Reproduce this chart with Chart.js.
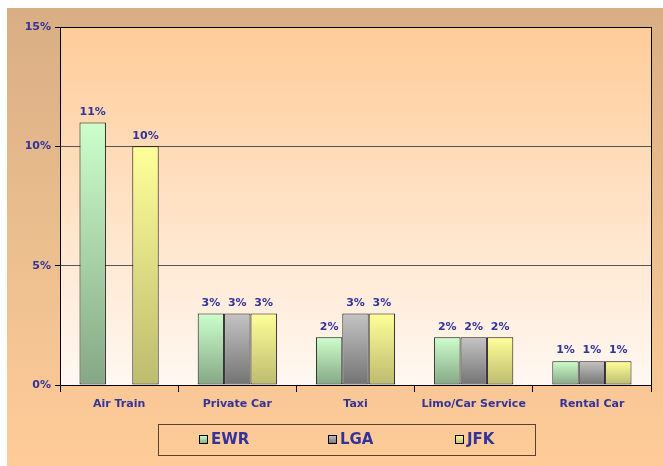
<!DOCTYPE html>
<html>
<head>
<meta charset="utf-8">
<script src="https://cdn.jsdelivr.net/npm/chart.js@4.4.1/dist/chart.umd.min.js"></script>
<style>
html,body{margin:0;padding:0;background:#fff;}
#wrap{position:relative;width:663px;height:466px;}
canvas{display:block;}
</style>
</head>
<body>
<div id="wrap"><canvas id="c" width="663" height="466"></canvas></div>
<script>
const categories = ['Air Train', 'Private Car', 'Taxi', 'Limo/Car Service', 'Rental Car'];
const ewr = [11, 3, 2, 2, 1];
const lga = [null, 3, 3, 2, 1];
const jfk = [10, 3, 3, 2, 1];
const seriesNames = ['EWR', 'LGA', 'JFK'];
const yTicks = [0, 5, 10, 15];

const TEXT = '#333399';
const FONT = '"DejaVu Sans", Verdana, sans-serif';
const gradStops = [
  ['#CCFFCC', '#85A785'],
  ['#C4C4C4', '#737373'],
  ['#FFFF99', '#BDBB6E']
];

function barGradient(idx) {
  return function(ctx) {
    const chart = ctx.chart;
    const ys = chart.scales && chart.scales.y;
    if (!chart.chartArea || !ys || ctx.raw === null || ctx.raw === undefined) return gradStops[idx][0];
    const top = ys.getPixelForValue(ctx.raw), bottom = ys.getPixelForValue(0);
    if (!(bottom > top)) return gradStops[idx][0];
    const g = chart.ctx.createLinearGradient(0, top, 0, bottom);
    g.addColorStop(0, gradStops[idx][0]);
    g.addColorStop(1, gradStops[idx][1]);
    return g;
  };
}

const bgPlugin = {
  id: 'bg',
  beforeDraw(chart) {
    const c = chart.ctx, a = chart.chartArea;
    c.save();
    c.fillStyle = '#ffffff';
    c.fillRect(0, 0, chart.width, chart.height);
    const og = c.createLinearGradient(0, 8, 0, chart.height);
    og.addColorStop(0, '#D9AE84');
    og.addColorStop(0.5, '#EBBE8E');
    og.addColorStop(1, '#FFCC99');
    c.fillStyle = og;
    c.fillRect(7, 8, chart.width - 7, chart.height - 8);
    const pg = c.createLinearGradient(0, a.top, 0, a.bottom);
    pg.addColorStop(0, '#FFCC99');
    pg.addColorStop(1, '#FFF8F2');
    c.fillStyle = pg;
    c.fillRect(a.left, a.top, a.right - a.left, a.bottom - a.top);
    c.restore();
  },
  afterDraw(chart) {
    const c = chart.ctx, a = chart.chartArea;
    c.save();
    c.strokeStyle = '#000';
    c.lineWidth = 1;
    c.strokeRect(Math.round(a.left) + 0.5, Math.round(a.top) + 0.5, Math.round(a.right - a.left), Math.round(a.bottom - a.top));
    // legend
    const lx = 158, ly = 424, lw = 377, lh = 31;
    c.strokeStyle = '#5a4030';
    c.strokeRect(lx + 0.5, ly + 0.5, lw, lh);
    const starts = [199, 328, 455];
    c.font = 'bold 15px ' + FONT;
    c.textBaseline = 'middle';
    chart.data.datasets.forEach((ds, i) => {
      const sx = starts[i], sy = ly + 11;
      const g = c.createLinearGradient(0, sy, 0, sy + 9);
      g.addColorStop(0, gradStops[i][0]);
      g.addColorStop(1, gradStops[i][1]);
      c.fillStyle = g;
      c.fillRect(sx, sy, 9, 9);
      c.strokeStyle = '#000';
      c.strokeRect(sx + 0.5, sy + 0.5, 8, 8);
      c.fillStyle = TEXT;
      c.textAlign = 'left';
      c.fillText(ds.label, sx + 12, ly + 16);
    });
    c.restore();
  }
};

const labelPlugin = {
  id: 'vals',
  afterDatasetsDraw(chart) {
    const c = chart.ctx;
    c.save();
    c.font = 'bold 11px ' + FONT;
    c.fillStyle = TEXT;
    c.textAlign = 'center';
    c.textBaseline = 'bottom';
    chart.data.datasets.forEach((ds, i) => {
      const meta = chart.getDatasetMeta(i);
      meta.data.forEach((bar, j) => {
        const v = ds.data[j];
        if (v === null || v === undefined) return;
        c.fillText(v + '%', bar.x, bar.y - 5);
      });
    });
    c.restore();
  }
};

new Chart(document.getElementById('c'), {
  type: 'bar',
  data: {
    labels: categories,
    datasets: [
      { label: seriesNames[0], data: ewr, backgroundColor: barGradient(0) },
      { label: seriesNames[1], data: lga, backgroundColor: barGradient(1) },
      { label: seriesNames[2], data: jfk, backgroundColor: barGradient(2) }
    ].map(d => Object.assign(d, { borderColor: '#111', borderWidth: 1, borderSkipped: false, categoryPercentage: 0.67, barPercentage: 1.0 }))
  },
  options: {
    responsive: false,
    animation: false,
    devicePixelRatio: 1,
    layout: { padding: { left: 0, right: 12, top: 27, bottom: 50 } },
    plugins: { legend: { display: false }, tooltip: { enabled: false } },
    scales: {
      x: {
        afterFit(s) { s.height = 31; },
        grid: { offset: true, drawOnChartArea: false, drawTicks: true, tickLength: 7, color: '#000', tickColor: '#000' },
        border: { display: true, color: '#000' },
        ticks: { color: TEXT, font: { family: FONT, size: 11, weight: 'bold' }, padding: 6 }
      },
      y: {
        min: 0, max: 15,
        afterFit(s) { s.width = 60; },
        afterBuildTicks(s) { s.ticks = yTicks.map(v => ({ value: v })); },
        grid: {
          drawTicks: true, tickLength: 5, tickColor: '#000',
          color: ctx => (ctx.tick && (ctx.tick.value === 0 || ctx.tick.value === 15)) ? 'rgba(0,0,0,0)' : '#555'
        },
        border: { display: true, color: '#000' },
        ticks: { color: TEXT, font: { family: FONT, size: 11, weight: 'bold' }, padding: 4, callback: v => v + '%' }
      }
    }
  },
  plugins: [bgPlugin, labelPlugin]
});
</script>
</body>
</html>
